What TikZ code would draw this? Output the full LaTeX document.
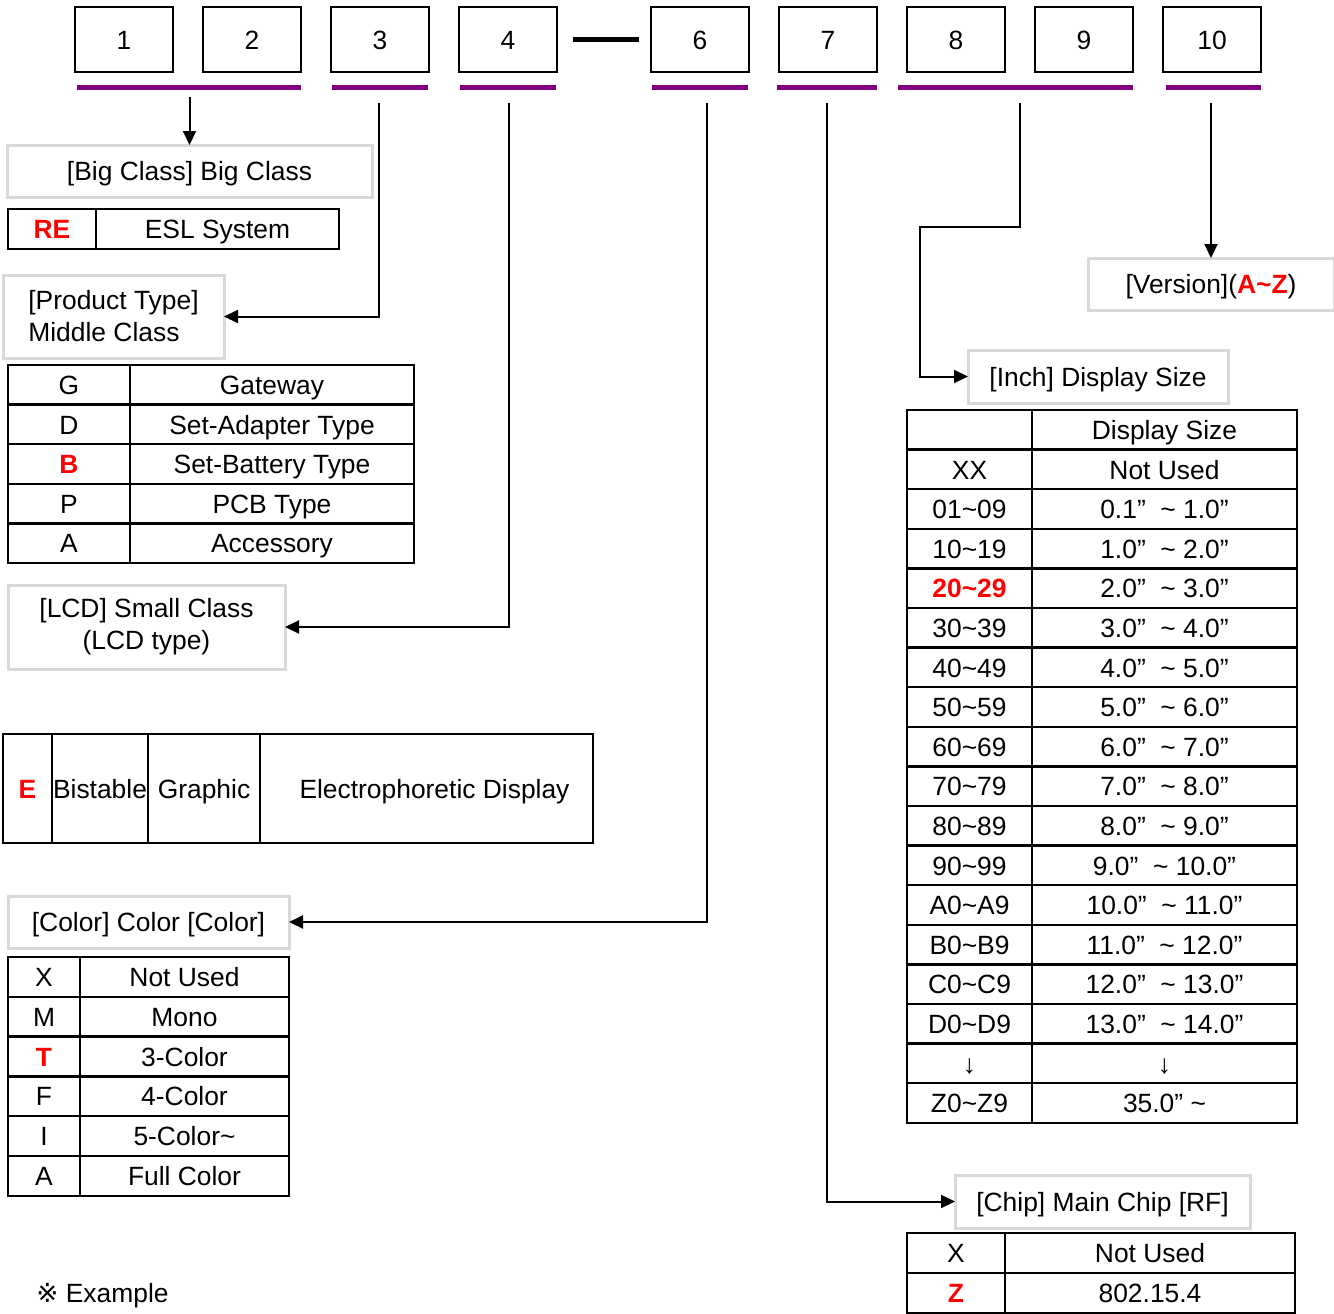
\documentclass[tikz,border=0pt]{standalone}
\usepackage{fontspec}
\setmainfont{Liberation Sans}
\newfontfamily\refmark{DejaVu Sans}
\usetikzlibrary{arrows.meta}
\definecolor{barpurple}{HTML}{800080}
\definecolor{framegray}{HTML}{D9D9D9}
\definecolor{hlred}{HTML}{FF0000}
\newcommand{\hl}[1]{\textcolor{hlred}{\textbf{#1}}}
\newcommand{\tld}{\textasciitilde}

\begin{document}
\begin{tikzpicture}[x=0.5pt, y=-0.5pt,
    font=\fontsize{13.2}{16}\selectfont,
    sz/.style 2 args={minimum width=#1*0.5pt, minimum height=#2*0.5pt},
    oneline/.style={text height=9.6pt, text depth=0pt},
    digit/.style={draw, line width=1.2pt, inner sep=0pt, oneline, sz={98}{65}},
    bar/.style={fill=barpurple, inner sep=0pt, minimum height=2.5pt, minimum width=#1*0.5pt},
    tagbox/.style={draw=framegray, line width=1.5pt, inner sep=0pt, outer sep=0pt},
    cell/.style={draw, line width=1.2pt, inner sep=0pt, outer sep=0pt, oneline},
    link/.style={line width=1pt, -{Triangle[length=7pt, width=6.5pt]}}
  ]
    \useasboundingbox (0,0) rectangle (1334,1313);

    % Code digits
    \node[digit] (n1) at (124,39.5) {1};
    \node[digit] (n2) at (252,39.5) {2};
    \node[digit] (n3) at (380,39.5) {3};
    \node[digit] (n4) at (508,39.5) {4};
    \node[digit] (n6) at (700,39.5) {6};
    \node[digit] (n7) at (828,39.5) {7};
    \node[digit] (n8) at (956,39.5) {8};
    \node[digit] (n9) at (1084,39.5) {9};
    \node[digit] (n10) at (1212,39.5) {10};
    \draw[line width=2.5pt, shorten <=7.5pt, shorten >=5.5pt] (n4) -- (n6);

    % Purple bars under the digit groups
    \node[bar=224] (b12) at (189,87.5) {};
    \node[bar=96]  (b3)  at (380,87.5) {};
    \node[bar=96]  (b4)  at (508,87.5) {};
    \node[bar=96]  (b6)  at (700,87.5) {};
    \node[bar=100] (b7)  at (827,87.5) {};
    \node[bar=235] (b89) at (1015.5,87.5) {};
    \node[bar=95]  (b10) at (1213.5,87.5) {};

    % Connector start points
    \coordinate (c12) at (189.5,97);
    \coordinate (c3) at (379,103);
    \coordinate (c4) at (509,103);
    \coordinate (c6) at (707,103);
    \coordinate (c7) at (827,103);
    \coordinate (c8) at (1020,103);
    \coordinate (k8) at (920,227);
    \coordinate (c10) at (1211,103);

    % Big class
    \node[tagbox, oneline, sz={365}{52}] (big) at (189.5,171) {[Big Class] Big Class};
    \node[cell, sz={88}{40}]  (re-k) at (52,229) {\hl{RE}};
    \node[cell, sz={243}{40}] (re-v) at (217.5,229) {ESL System};

    % Product type (middle class)
    \node[tagbox, sz={221}{83}, align=left] (prod) at (113.5,316.5) {\raisebox{-1pt}{[Product Type]}\\\raisebox{-1pt}{Middle Class}};
    \foreach \k/\v [count=\i from 0] in {G/Gateway, D/Set-Adapter Type, \hl{B}/Set-Battery Type, P/PCB Type, A/Accessory}{
      \node[cell, sz={122}{39.6}] (pt-k\i) at (69,{384.8+39.6*\i}) {\k};
      \node[cell, sz={284}{39.6}] (pt-v\i) at (272,{384.8+39.6*\i}) {\v};
    }

    % LCD type (small class)
    \node[tagbox, sz={277}{84}, align=center] (lcd) at (146.5,627) {\raisebox{-1.5pt}{[LCD] Small Class}\\\raisebox{-1.5pt}{(LCD type)}};
    \node[cell, sz={49}{109}]  (lt-k) at (27.5,788.5) {\hl{E}};
    \node[cell, sz={96}{109}]  (lt-a) at (100,788.5) {Bistable};
    \node[cell, sz={112}{109}] (lt-b) at (204,788.5) {Graphic};
    \node[cell, sz={333}{109}] (lt-c) at (426.5,788.5) {\hspace{8pt}Electrophoretic Display};

    % Color
    \node[tagbox, oneline, sz={281}{52}] (color) at (148.5,922) {[Color] Color [Color]};
    \foreach \k/\v [count=\i from 0] in {X/Not Used, M/Mono, \hl{T}/3-Color, F/4-Color, I/5-Color\tld, A/Full Color}{
      \node[cell, sz={72}{39.8}]  (co-k\i) at (44,{976.9+39.8*\i}) {\k};
      \node[cell, sz={209}{39.8}] (co-v\i) at (184.5,{976.9+39.8*\i}) {\v};
    }
    \node[anchor=west, inner sep=0pt, oneline] (note) at (36,1293) {{\refmark ※} Example};

    % Version
    \node[tagbox, oneline, sz={246}{52}] (ver) at (1211,284) {[Version](\hl{A\tld Z})};

    % Display size
    \node[tagbox, oneline, sz={260}{53}] (disp) at (1098,376.5) {[Inch] Display Size};
    \foreach \k/\v [count=\i from 0] in {
        {}/Display Size, XX/Not Used,
        01\tld09/0.1”\ \ \tld\ 1.0”, 10\tld19/1.0”\ \ \tld\ 2.0”,
        \hl{20\tld29}/2.0”\ \ \tld\ 3.0”, 30\tld39/3.0”\ \ \tld\ 4.0”,
        40\tld49/4.0”\ \ \tld\ 5.0”, 50\tld59/5.0”\ \ \tld\ 6.0”,
        60\tld69/6.0”\ \ \tld\ 7.0”, 70\tld79/7.0”\ \ \tld\ 8.0”,
        80\tld89/8.0”\ \ \tld\ 9.0”, 90\tld99/9.0”\ \ \tld\ 10.0”,
        A0\tld A9/10.0”\ \ \tld\ 11.0”, B0\tld B9/11.0”\ \ \tld\ 12.0”,
        C0\tld C9/12.0”\ \ \tld\ 13.0”, D0\tld D9/13.0”\ \ \tld\ 14.0”,
        ↓/↓, Z0\tld Z9/35.0”\ \tld}{
      \node[cell, sz={125}{39.6}] (ds-k\i) at (969.5,{429.8+39.6*\i}) {\k};
      \node[cell, sz={265}{39.6}] (ds-v\i) at (1164.5,{429.8+39.6*\i}) {\v};
    }

    % Main chip
    \node[tagbox, oneline, sz={295}{53}] (chip) at (1102.5,1201.5) {[Chip] Main Chip [RF]};
    \foreach \k/\v [count=\i from 0] in {X/Not Used, \hl{Z}/802.15.4}{
      \node[cell, sz={98}{40}]  (mc-k\i) at (956,{1253+40*\i}) {\k};
      \node[cell, sz={290}{40}] (mc-v\i) at (1150,{1253+40*\i}) {\v};
    }

    % Connectors
    \draw[link] (c12) -- (c12 |- big.north);
    \draw[link] (c3) |- (prod.east);
    \draw[link] (c4) |- (lcd.east);
    \draw[link] (c6) |- (color.east);
    \draw[link] (c7) |- (chip.west);
    \draw[link] (c8) |- (k8) |- (disp.west);
    \draw[link] (c10) -- (ver.north);
\end{tikzpicture}
\end{document}
